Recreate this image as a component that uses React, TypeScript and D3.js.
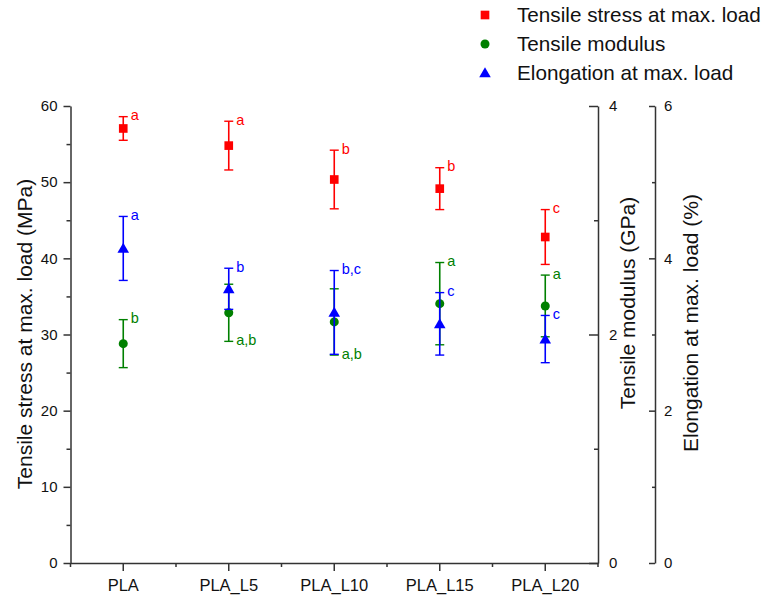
import React, { useEffect, useRef } from 'react';
import * as d3 from 'd3';

// values
const categories = ['PLA', 'PLA_L5', 'PLA_L10', 'PLA_L15', 'PLA_L20'];

const stress = [57.05, 54.8, 50.35, 49.15, 42.8];
const stressErr = [1.55, 3.2, 3.85, 2.75, 3.6];
const stressLetters = ['a', 'a', 'b', 'b', 'c'];
const stressLetterSide = ['top', 'top', 'top', 'top', 'top'];

const modulus = [1.92, 2.19, 2.11, 2.27, 2.25];
const modulusErr = [0.21, 0.25, 0.29, 0.36, 0.27];
const modulusLetters = ['b', 'a,b', 'a,b', 'a', 'a'];
const modulusLetterSide = ['top', 'bottom', 'bottom', 'top', 'top'];

const elong = [4.13, 3.6, 3.29, 3.14, 2.94];
const elongErr = [0.42, 0.27, 0.55, 0.41, 0.31];
const elongLetters = ['a', 'b', 'b,c', 'c', 'c'];
const elongLetterSide = ['top', 'top', 'top', 'top', 'top'];

const stressTicks = [0, 10, 20, 30, 40, 50, 60];
const stressMinor = [5, 15, 25, 35, 45, 55];
const modulusTicks = [0, 2, 4];
const modulusMinor = [1, 3];
const elongTicks = [0, 2, 4, 6];
const elongMinor = [1, 3, 5];

const legendLabels = ['Tensile stress at max. load', 'Tensile modulus', 'Elongation at max. load'];

const FONT = "'Liberation Sans', Arial, sans-serif";

const App = () => {
  const svgRef = useRef(null);

  useEffect(() => {
    const width = 769;
    const height = 602;
    const left = 70.5;
    const right = 598;
    const top = 106;
    const bottom = 563;
    const axis2 = 655;
    const tickFont = 15;

    const svg = d3.select(svgRef.current).attr('width', width).attr('height', height);
    svg.selectAll('*').remove();
    svg.append('rect').attr('width', width).attr('height', height).attr('fill', '#fff');

    const x = d3.scaleBand().domain(categories).range([left, right]).padding(0);
    const yS = d3.scaleLinear().domain([0, 60]).range([bottom, top]);
    const yM = d3.scaleLinear().domain([0, 4]).range([bottom, top]);
    const yE = d3.scaleLinear().domain([0, 6]).range([bottom, top]);
    const fmt = d3.format('d');

    const styleAxis = (g, size) => {
      g.attr('font-size', size).attr('font-family', FONT);
      g.selectAll('path').attr('stroke', '#333').attr('stroke-width', 1.5);
      g.selectAll('line').attr('stroke', '#333').attr('stroke-width', 1.5);
      g.selectAll('text').style('font-family', FONT).style('font-size', `${size}px`).attr('fill', '#111');
    };

    // left axis
    const gl = svg.append('g').attr('transform', `translate(${left},0)`);
    gl.call(d3.axisLeft(yS).tickValues(stressTicks).tickFormat(fmt).tickSizeInner(7).tickSizeOuter(0).tickPadding(6));
    styleAxis(gl, tickFont);
    const glm = svg.append('g').attr('transform', `translate(${left},0)`);
    glm.call(d3.axisLeft(yS).tickValues(stressMinor).tickSize(4).tickFormat(() => ''));
    glm.select('.domain').remove();
    styleAxis(glm, tickFont);

    // bottom axis
    const gb = svg.append('g').attr('transform', `translate(0,${bottom})`);
    gb.call(d3.axisBottom(x).tickSizeInner(8).tickSizeOuter(0).tickPadding(8));
    styleAxis(gb, 16.5);
    const bounds = categories.map(c => x(c)).concat([x.range()[1]]);
    gb.selectAll('.minor')
      .data(bounds)
      .join('line')
      .attr('class', 'minor')
      .attr('x1', d => d)
      .attr('x2', d => d)
      .attr('y1', 0)
      .attr('y2', 4)
      .attr('stroke', '#333')
      .attr('stroke-width', 1.5);

    // modulus axis
    const gm = svg.append('g').attr('transform', `translate(${right},0)`);
    gm.call(d3.axisRight(yM).tickValues(modulusTicks).tickFormat(fmt).tickSizeInner(-9).tickSizeOuter(0).tickPadding(11));
    styleAxis(gm, tickFont);
    const gmm = svg.append('g').attr('transform', `translate(${right},0)`);
    gmm.call(d3.axisRight(yM).tickValues(modulusMinor).tickSize(-4).tickFormat(() => ''));
    gmm.select('.domain').remove();
    styleAxis(gmm, tickFont);

    // elongation axis
    const ge = svg.append('g').attr('transform', `translate(${axis2},0)`);
    ge.call(d3.axisRight(yE).tickValues(elongTicks).tickFormat(fmt).tickSizeInner(-6).tickSizeOuter(0).tickPadding(9));
    styleAxis(ge, tickFont);
    const gem = svg.append('g').attr('transform', `translate(${axis2},0)`);
    gem.call(d3.axisRight(yE).tickValues(elongMinor).tickSize(-3).tickFormat(() => ''));
    gem.select('.domain').remove();
    styleAxis(gem, tickFont);

    // axis titles
    const title = (tx, ty, label) => {
      svg.append('text')
        .attr('transform', `translate(${tx},${ty}) rotate(-90)`)
        .attr('text-anchor', 'middle')
        .attr('font-family', FONT)
        .attr('font-size', 21)
        .attr('fill', '#111')
        .text(label);
    };
    title(32, 334, 'Tensile stress at max. load (MPa)');
    title(635, 303, 'Tensile modulus (GPa)');
    title(698, 323, 'Elongation at max. load (%)');

    const cx = c => x(c) + x.bandwidth() / 2;

    const series = [
      { vals: stress, err: stressErr, letters: stressLetters, side: stressLetterSide, y: yS, color: '#ff0000', shape: d3.symbolSquare, size: 75 },
      { vals: modulus, err: modulusErr, letters: modulusLetters, side: modulusLetterSide, y: yM, color: '#008000', shape: d3.symbolCircle, size: 64 },
      { vals: elong, err: elongErr, letters: elongLetters, side: elongLetterSide, y: yE, color: '#0000ff', shape: d3.symbolTriangle, size: 58 },
    ];

    series.forEach(s => {
      const g = svg.append('g');
      categories.forEach((c, i) => {
        const px = cx(c);
        const y1 = s.y(s.vals[i] + s.err[i]);
        const y0 = s.y(s.vals[i] - s.err[i]);
        g.append('line').attr('x1', px).attr('x2', px).attr('y1', y1).attr('y2', y0)
          .attr('stroke', s.color).attr('stroke-width', 1.6);
        [y1, y0].forEach(yy => {
          g.append('line').attr('x1', px - 4.5).attr('x2', px + 4.5).attr('y1', yy).attr('y2', yy)
            .attr('stroke', s.color).attr('stroke-width', 1.4);
        });
        g.append('path')
          .attr('d', d3.symbol().type(s.shape).size(s.size)())
          .attr('transform', `translate(${px},${s.y(s.vals[i]) + (s.shape === d3.symbolTriangle ? 1 : 0)})`)
          .attr('fill', s.color);
        const ly = s.side[i] === 'top' ? y1 - 1.5 : y0 - 1;
        g.append('text')
          .attr('x', px + 7.5)
          .attr('y', ly)
          .attr('dy', '0.35em')
          .attr('font-family', FONT)
          .attr('font-size', 14.5)
          .attr('fill', s.color)
          .text(s.letters[i]);
      });
    });

    // legend
    const legend = svg.append('g');
    series.forEach((s, i) => {
      const ly = 15 + i * 29;
      legend.append('path')
        .attr('d', d3.symbol().type(s.shape).size(s.size)())
        .attr('transform', `translate(485,${ly + (s.shape === d3.symbolTriangle ? 1 : 0)})`)
        .attr('fill', s.color);
      legend.append('text')
        .attr('x', 517)
        .attr('y', ly)
        .attr('dy', '0.35em')
        .attr('font-family', FONT)
        .attr('font-size', 20.7)
        .attr('fill', '#111')
        .text(legendLabels[i]);
    });
  }, []);

  return <svg ref={svgRef} style={{ position: 'absolute', left: 0, top: 0 }}></svg>;
};

export default App;
